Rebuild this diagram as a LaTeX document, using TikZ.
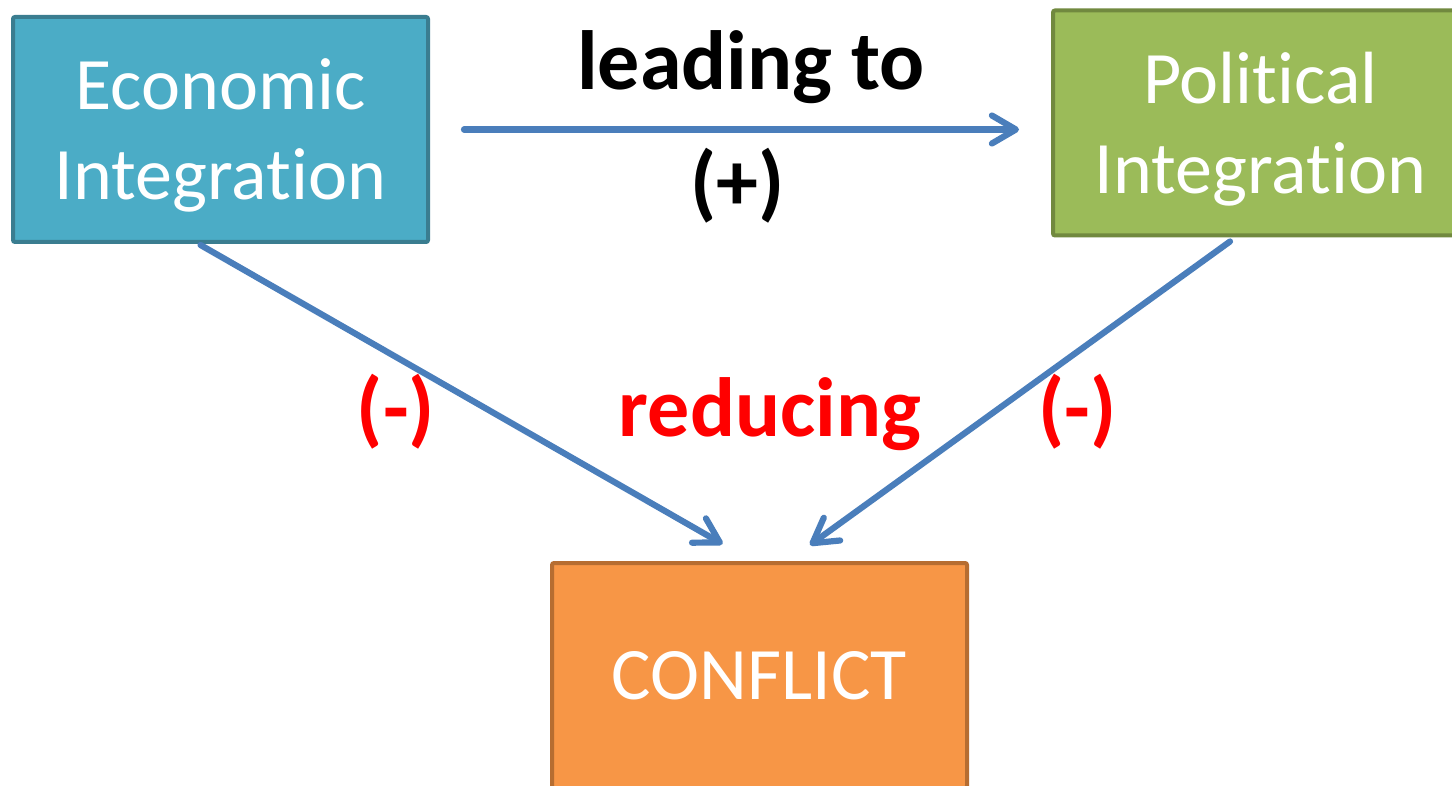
\documentclass[tikz,border=0pt]{standalone}
\usepackage{fontspec}
\setmainfont{Carlito}[Ligatures={NoCommon}]
\usetikzlibrary{arrows.meta}
\definecolor{tealfill}{HTML}{4BACC6}
\definecolor{tealline}{HTML}{3A7D90}
\definecolor{greenfill}{HTML}{9BBB59}
\definecolor{greenline}{HTML}{71893F}
\definecolor{orangefill}{HTML}{F79646}
\definecolor{orangeline}{HTML}{B66D31}
\definecolor{arrowblue}{HTML}{4A7EBB}
\definecolor{redtxt}{HTML}{FF0000}
\tikzset{
  box/.style={draw, line width=2pt, rounded corners=1pt, minimum width=207.5pt, minimum height=112.5pt,
    inner sep=0pt, align=center, text=white, font=\fontsize{37pt}{45pt}\selectfont},
  conn/.style={draw=arrowblue, line width=3.1pt, line cap=round,
    -{Straight Barb[length=12pt, width=14pt, line cap=round, line join=round]}},
  lbl/.style={inner sep=0pt, anchor=base, font=\fontsize{42pt}{50pt}\selectfont\bfseries},
}
\begin{document}
\begin{tikzpicture}[x=0.5pt, y=-0.5pt]
\clip (0,0) rectangle (1452,786);
\useasboundingbox (0,0) rectangle (1452,786);
\fill[white] (0,0) rectangle (1452,786);
\node[box, fill=tealfill, draw=tealline] (econ) at (220.5,129.5) {\rule{0pt}{31pt}Economic\\Integration};
\node[box, fill=greenfill, draw=greenline] (pol) at (1260.5,123) {\rule{0pt}{32pt}Political\\Integration};
\node[box, fill=orangefill, draw=orangeline] (conf) at (759.5,675.5) {CONFLICT};
\draw[conn] ([xshift=17pt]econ.east |- 0,129.5) -- ([xshift=-16pt]pol.west |- 0,129.5);
\draw[conn] ([xshift=-10pt,yshift=-0.5pt]econ.south) -- ([xshift=-18.5pt,yshift=8.5pt]conf.north);
\draw[conn] ([xshift=-15.25pt,yshift=-2pt]pol.south) -- ([xshift=25.25pt,yshift=8pt]conf.north);
\node[lbl] (lead) at (751,90) {leading to};
\node[lbl] (plus) at (737.5,211) {(+)};
\node[lbl, text=redtxt] (red) at (770,437) {reducing};
\node[lbl, text=redtxt] (m1) at (396,437) {(-)};
\node[lbl, text=redtxt] (m2) at (1077.5,437) {(-)};
\end{tikzpicture}
\end{document}
